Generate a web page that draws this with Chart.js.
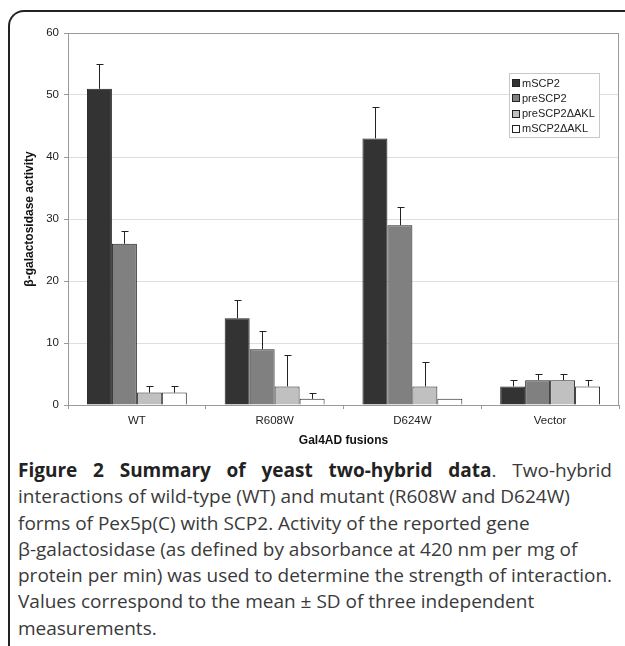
<!DOCTYPE html>
<html>
<head>
<meta charset="utf-8">
<script src="https://cdn.jsdelivr.net/npm/chart.js@4.4.1/dist/chart.umd.min.js"></script>
<style>
  html, body { margin: 0; padding: 0; background: #fff; }
  body { width: 625px; height: 646px; position: relative; overflow: hidden; }
  #frame {
    position: absolute; left: 8px; top: 10px; width: 700px; height: 700px;
    border-top: 2px solid #222; border-left: 2px solid #222;
    border-top-left-radius: 16px; box-sizing: border-box;
  }
  #wrap { position: absolute; left: 0; top: 0; width: 625px; height: 449px; }
  #caption {
    position: absolute; left: 18px; top: 457px; width: 594px;
    font-family: "Open Sans", sans-serif; font-size: 19px; line-height: 26.3px;
    color: #3a3a3a;
  }
  #caption div { white-space: nowrap; }
  #caption .first { text-align: justify; text-align-last: justify; }
  #caption b { color: #222; }
</style>
</head>
<body>
<div id="frame"></div>
<div id="wrap"><canvas id="myChart"></canvas></div>
<div id="caption">
  <div class="first"><b>Figure 2 Summary of yeast two-hybrid data</b>. Two-hybrid</div>
  <div>interactions of wild-type (WT) and mutant (R608W and D624W)</div>
  <div>forms of Pex5p(C) with SCP2. Activity of the reported gene</div>
  <div>&beta;-galactosidase (as defined by absorbance at 420 nm per mg of</div>
  <div>protein per min) was used to determine the strength of interaction.</div>
  <div>Values correspond to the mean &plusmn; SD of three independent</div>
  <div>measurements.</div>
</div>
<script>
var groups = ["WT", "R608W", "D624W", "Vector"];
var seriesNames = ["mSCP2", "preSCP2", "preSCP2\u0394AKL", "mSCP2\u0394AKL"];
var mSCP2 = [51, 14, 43, 3];
var preSCP2 = [26, 9, 29, 4];
var preSCP2dAKL = [2, 3, 3, 4];
var mSCP2dAKL = [2, 1, 1, 3];
// top of the error bar (mean + SD); null = no bar
var mSCP2Err = [55, 17, 48, 4];
var preSCP2Err = [28, 12, 32, 5];
var preSCP2dAKLErr = [3, 8, 7, 5];
var mSCP2dAKLErr = [3, 2, null, 4];
var yTicks = [0, 10, 20, 30, 40, 50, 60];

var fills = ["#333333", "#808080", "#c0c0c0", "#ffffff"];
var allValues = [mSCP2, preSCP2, preSCP2dAKL, mSCP2dAKL];
var allErr = [mSCP2Err, preSCP2Err, preSCP2dAKLErr, mSCP2dAKLErr];

var datasets = seriesNames.map(function (name, i) {
  return {
    label: name,
    data: allValues[i],
    err: allErr[i],
    backgroundColor: fills[i],
    borderColor: "#222",
    borderWidth: 1,
    barPercentage: 1,
    categoryPercentage: 0.725
  };
});

var extras = {
  id: "extras",
  beforeDatasetsDraw: function (chart) {
    var a = chart.chartArea, c = chart.ctx;
    c.save();
    c.strokeStyle = "#9a9a9a";
    c.lineWidth = 1;
    c.strokeRect(Math.round(a.left) + 0.5, Math.round(a.top) + 0.5,
      Math.round(a.right - a.left) - 1, Math.round(a.bottom - a.top));
    c.restore();
  },
  afterDatasetsDraw: function (chart) {
    var c = chart.ctx, y = chart.scales.y;
    c.save();
    c.strokeStyle = "#222";
    c.lineWidth = 1;
    chart.data.datasets.forEach(function (ds, i) {
      var meta = chart.getDatasetMeta(i);
      meta.data.forEach(function (bar, j) {
        var e = ds.err[j];
        if (e == null) return;
        var x = Math.round(bar.x) + 0.5;
        var yt = Math.round(y.getPixelForValue(e)) + 0.5;
        c.beginPath();
        c.moveTo(x, bar.y);
        c.lineTo(x, yt);
        c.moveTo(x - 3, yt);
        c.lineTo(x + 4, yt);
        c.stroke();
      });
    });
    // legend
    var lx = 509, ly = 73, lw = 90, lh = 64;
    c.fillStyle = "#fff";
    c.fillRect(lx, ly, lw, lh);
    c.strokeStyle = "#c8c8c8";
    c.strokeRect(lx + 0.5, ly + 0.5, lw, lh);
    c.font = "11px 'Liberation Sans', Arial, sans-serif";
    c.textBaseline = "middle";
    chart.data.datasets.forEach(function (ds, i) {
      var ry = ly + 10 + i * 15.3;
      c.fillStyle = ds.backgroundColor;
      c.fillRect(lx + 3.5, Math.round(ry) - 3.5, 7, 7);
      c.strokeStyle = "#222";
      c.strokeRect(lx + 3.5, Math.round(ry) - 3.5, 7, 7);
      c.fillStyle = "#222";
      c.fillText(ds.label, lx + 13, ry + 0.5);
    });
    c.restore();
  }
};

var ctx = document.getElementById("myChart");
var myChart = new Chart(ctx, {
  type: "bar",
  data: { labels: groups, datasets: datasets },
  options: {
    responsive: true,
    maintainAspectRatio: false,
    animation: false,
    layout: { padding: { top: 33, right: 6, left: 0, bottom: 0 } },
    plugins: { legend: { display: false }, tooltip: { enabled: false } },
    scales: {
      x: {
        grid: { drawOnChartArea: false, tickLength: 4, tickColor: "#9a9a9a", offset: true },
        border: { display: true, color: "#9a9a9a" },
        ticks: { color: "#222", padding: 5, font: { family: "'Liberation Sans', Arial", size: 11.5 } },
        title: {
          display: true, text: "Gal4AD fusions", color: "#111",
          font: { family: "'Liberation Sans', Arial", size: 12, weight: "bold" },
          padding: { top: 0, bottom: 1 }
        },
        afterFit: function (s) { s.height = 44; }
      },
      y: {
        min: 0, max: 60,
        afterBuildTicks: function (s) { s.ticks = yTicks.map(function (v) { return { value: v }; }); },
        grid: { color: "#dedede", tickLength: 4, tickColor: "#9a9a9a" },
        border: { display: true, color: "#9a9a9a" },
        ticks: { color: "#222", padding: 5, font: { family: "'Liberation Sans', Arial", size: 11.5 } },
        title: {
          display: true, text: "\u03b2-galactosidase activity", color: "#111",
          font: { family: "'Liberation Sans', Arial", size: 12, weight: "bold" },
          padding: { top: 22, bottom: 0 }
        },
        afterFit: function (s) { s.width = 68; }
      }
    }
  },
  plugins: [extras]
});
</script>
</body>
</html>
